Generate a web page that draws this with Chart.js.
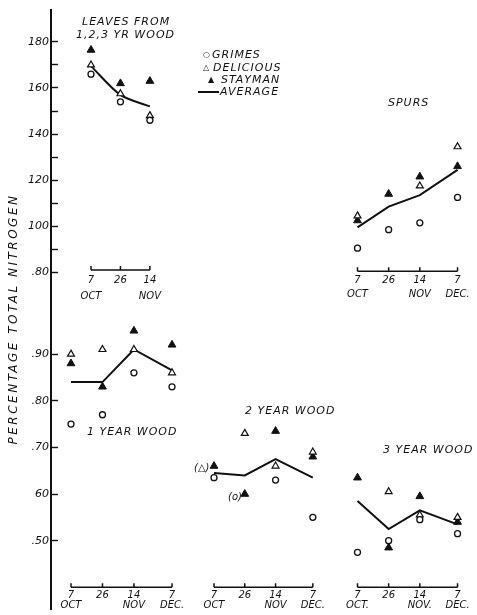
<!DOCTYPE html>
<html>
<head>
<meta charset="utf-8">
<script src="https://cdn.jsdelivr.net/npm/chart.js@4.4.0/dist/chart.umd.min.js"></script>
<style>
body { margin: 0; background: #fff; }
#wrap { position: relative; width: 477px; height: 615px; overflow: hidden; }
#wrap canvas { position: absolute; left: 0; top: 0; }
.lbl { position: absolute; font-family: "DejaVu Sans"; font-style: italic; font-size: 11px; letter-spacing: 1px; color: #111; white-space: nowrap; line-height: 12px; }
.sym { position: absolute; font-family: "DejaVu Sans"; font-size: 8px; color: #111; line-height: 10px; }
</style>
</head>
<body>
<div id="wrap">
<canvas id="myChart" width="477" height="615"></canvas>

<div class="lbl" style="left:-127px;top:313px;width:280px;text-align:center;transform:rotate(-90deg);font-size:12px;letter-spacing:2.5px">PERCENTAGE TOTAL NITROGEN</div>

<div class="lbl" style="left:82px;top:16px">LEAVES FROM</div>
<div class="lbl" style="left:76px;top:29px">1,2,3 YR WOOD</div>

<div class="sym" style="left:203px;top:50px">○</div>
<div class="lbl" style="left:212px;top:49px">GRIMES</div>
<div class="sym" style="left:203px;top:63px">△</div>
<div class="lbl" style="left:213px;top:62px">DELICIOUS</div>
<div class="sym" style="left:208px;top:75px">▲</div>
<div class="lbl" style="left:221px;top:74px">STAYMAN</div>
<div style="position:absolute;left:198px;top:91px;width:21px;height:2px;background:#111"></div>
<div class="lbl" style="left:220px;top:86px">AVERAGE</div>

<div class="lbl" style="left:388px;top:97px">SPURS</div>
<div class="lbl" style="left:87px;top:426px">1 YEAR WOOD</div>
<div class="lbl" style="left:245px;top:405px">2 YEAR WOOD</div>
<div class="lbl" style="left:383px;top:444px">3 YEAR WOOD</div>
<div class="lbl" style="left:194px;top:462px;font-size:10px;letter-spacing:0">(△)</div>
<div class="lbl" style="left:228px;top:491px;font-size:10px;letter-spacing:0">(o)</div>
</div>

<script>
// sampling dates, in days after 7 Oct
const days = [0, 19, 38, 61];
const dayLabels = ['7', '26', '14', '7'];

// y axis ticks (top block 0.80 - 1.80, bottom block 0.50 - 0.90)
const topTicks = [0.8, 0.9, 1.0, 1.1, 1.2, 1.3, 1.4, 1.5, 1.6, 1.7, 1.8];
const topTickLabels = ['.80', '', '100', '', '120', '', '140', '', '160', '', '180'];
const botTicks = [0.5, 0.6, 0.7, 0.8, 0.9];
const botTickLabels = ['.50', '60', '.70', '.80', '.90'];

// leaves from 1,2,3 yr wood
const leavesGrimes = [1.66, 1.54, 1.46];
const leavesDelicious = [1.70, 1.575, 1.48];
const leavesStayman = [1.765, 1.62, 1.63];
const leavesAverage = [1.695, 1.57, 1.52];
const leavesMonths = ['OCT', '', 'NOV'];

// spurs
const spursGrimes = [0.905, 0.985, 1.015, 1.125];
const spursDelicious = [1.045, null, 1.175, 1.345];
const spursStayman = [1.025, 1.14, 1.215, 1.26];
const spursAverage = [0.995, 1.085, 1.135, 1.245];
const spursMonths = ['OCT', '', 'NOV', 'DEC.'];

// 1 year wood
const oneGrimes = [0.75, 0.77, 0.86, 0.83];
const oneDelicious = [0.90, 0.91, 0.91, 0.86];
const oneStayman = [0.88, 0.83, 0.95, 0.92];
const oneAverage = [0.84, 0.84, 0.91, 0.865];
const oneMonths = ['OCT', '', 'NOV', 'DEC.'];

// 2 year wood  (null = point hidden, marked (△) / (o) on the chart)
const twoGrimes = [0.635, null, 0.63, 0.55];
const twoDelicious = [null, 0.73, 0.66, 0.69];
const twoStayman = [0.66, 0.60, 0.735, 0.68];
const twoAverage = [0.645, 0.64, 0.675, 0.635];
const twoMonths = ['OCT', '', 'NOV', 'DEC.'];

// 3 year wood
const threeGrimes = [0.475, 0.50, 0.545, 0.515];
const threeDelicious = [null, 0.605, 0.555, 0.55];
const threeStayman = [0.635, 0.485, 0.595, 0.54];
const threeAverage = [0.585, 0.525, 0.565, 0.535];
const threeMonths = ['OCT.', '', 'NOV.', 'DEC.'];

const ink = '#111';
const AREA_LEFT = 51, AREA_W = 419;

function pts(values) {
    return values.map((v, i) => ({x: days[i], y: v}));
}

function xScale(origin, pxPerDay) {
    var min = -(origin - AREA_LEFT) / pxPerDay;
    return {type: 'linear', axis: 'x', display: false, min: min, max: min + AREA_W / pxPerDay};
}

var datasets = [];
function addPanel(xAxisID, yAxisID, grimes, delicious, stayman, average, tension) {
    datasets.push({
        label: 'Grimes', data: pts(grimes), xAxisID: xAxisID, yAxisID: yAxisID, order: 0,
        pointStyle: 'circle', pointRadius: 3, borderColor: ink, backgroundColor: '#fff', borderWidth: 1.3
    });
    datasets.push({
        label: 'Delicious', data: pts(delicious), xAxisID: xAxisID, yAxisID: yAxisID, order: 0,
        pointStyle: 'triangle', pointRadius: 4, borderColor: ink, backgroundColor: '#fff', borderWidth: 1.2
    });
    datasets.push({
        label: 'Stayman', data: pts(stayman), xAxisID: xAxisID, yAxisID: yAxisID, order: 0,
        pointStyle: 'triangle', pointRadius: 4.5, borderColor: ink, backgroundColor: ink, borderWidth: 1
    });
    datasets.push({
        label: 'Average', data: pts(average), xAxisID: xAxisID, yAxisID: yAxisID, order: 1,
        showLine: true, pointRadius: 0, borderColor: ink, borderWidth: 2, tension: tension || 0
    });
}

addPanel('xLeaves', 'yTop', leavesGrimes, leavesDelicious, leavesStayman, leavesAverage, 0.3);
addPanel('xRight', 'yTop', spursGrimes, spursDelicious, spursStayman, spursAverage);
addPanel('xLeft', 'yBot', oneGrimes, oneDelicious, oneStayman, oneAverage);
addPanel('xMid', 'yBot', twoGrimes, twoDelicious, twoStayman, twoAverage);
addPanel('xRight', 'yBot', threeGrimes, threeDelicious, threeStayman, threeAverage);

// the small date axes under each panel
const panels = [
    {xAxis: 'xLeaves', yAxis: 'yTop', base: 0.81, n: 3, months: leavesMonths, numGap: 10, monthGap: 26},
    {xAxis: 'xRight', yAxis: 'yTop', base: 0.805, n: 4, months: spursMonths, numGap: 9, monthGap: 23},
    {xAxis: 'xLeft', yAxis: 'yBot', base: 0.40, n: 4, months: oneMonths, numGap: 8, monthGap: 18},
    {xAxis: 'xMid', yAxis: 'yBot', base: 0.40, n: 4, months: twoMonths, numGap: 8, monthGap: 18},
    {xAxis: 'xRight', yAxis: 'yBot', base: 0.40, n: 4, months: threeMonths, numGap: 8, monthGap: 18}
];

const panelAxes = {
    id: 'panelAxes',
    afterLayout: function (chart) {
        // both y scales share the same left strip so both sets of labels show
        chart.scales.yTop.left = 0;
    },
    afterDraw: function (chart) {
        var ctx = chart.ctx;
        ctx.save();
        ctx.strokeStyle = ink;
        ctx.fillStyle = ink;
        ctx.lineWidth = 1.5;
        ctx.font = 'italic 10px "DejaVu Sans"';
        ctx.textAlign = 'center';
        ctx.textBaseline = 'middle';
        panels.forEach(function (p) {
            var xs = chart.scales[p.xAxis], ys = chart.scales[p.yAxis];
            var y0 = ys.getPixelForValue(p.base);
            var d = days.slice(0, p.n);
            ctx.beginPath();
            ctx.moveTo(xs.getPixelForValue(d[0]), y0);
            ctx.lineTo(xs.getPixelForValue(d[d.length - 1]), y0);
            d.forEach(function (day) {
                var x = xs.getPixelForValue(day);
                ctx.moveTo(x, y0);
                ctx.lineTo(x, y0 - 4);
            });
            ctx.stroke();
            d.forEach(function (day, i) {
                var x = xs.getPixelForValue(day);
                ctx.fillText(dayLabels[i], x, y0 + p.numGap);
                if (p.months[i]) ctx.fillText(p.months[i], x, y0 + p.monthGap);
            });
        });
        ctx.restore();
    }
};

const tickFont = {family: 'DejaVu Sans', style: 'italic', size: 11};

const ctx = document.getElementById('myChart');
new Chart(ctx, {
    type: 'scatter',
    data: {datasets: datasets},
    options: {
        responsive: false,
        animation: false,
        devicePixelRatio: 1,
        layout: {padding: {left: 0, top: 10, right: 7, bottom: 4}},
        plugins: {legend: {display: false}, tooltip: {enabled: false}},
        scales: {
            xLeaves: xScale(91, 1.55),
            xLeft: xScale(71, 1.656),
            xMid: xScale(214, 1.62),
            xRight: xScale(357.5, 1.64),
            yBot: {
                type: 'linear', axis: 'y', position: 'left', weight: 1,
                min: 0.3524, max: 1.638,
                afterBuildTicks: function (s) { s.ticks = botTicks.map(function (v) { return {value: v}; }); },
                afterFit: function (s) { s.width = AREA_LEFT; s.paddingTop = 0; s.paddingBottom = 0; },
                border: {display: true, color: ink, width: 2},
                grid: {drawOnChartArea: false, tickLength: -7, tickColor: ink, tickWidth: 1.4},
                ticks: {
                    autoSkip: false, padding: 9, color: ink, font: tickFont,
                    callback: function (v, i) { return botTickLabels[i]; }
                }
            },
            yTop: {
                type: 'linear', axis: 'y', position: 'left', weight: 0,
                min: -0.6632, max: 1.9385,
                afterBuildTicks: function (s) { s.ticks = topTicks.map(function (v) { return {value: v}; }); },
                afterFit: function (s) { s.width = 0; s.paddingTop = 0; s.paddingBottom = 0; },
                border: {display: false},
                grid: {drawOnChartArea: false, tickLength: -7, tickColor: ink, tickWidth: 1.4},
                ticks: {
                    autoSkip: false, padding: 9, color: ink, font: tickFont,
                    callback: function (v, i) { return topTickLabels[i]; }
                }
            }
        }
    },
    plugins: [panelAxes]
});
</script>
</body>
</html>
